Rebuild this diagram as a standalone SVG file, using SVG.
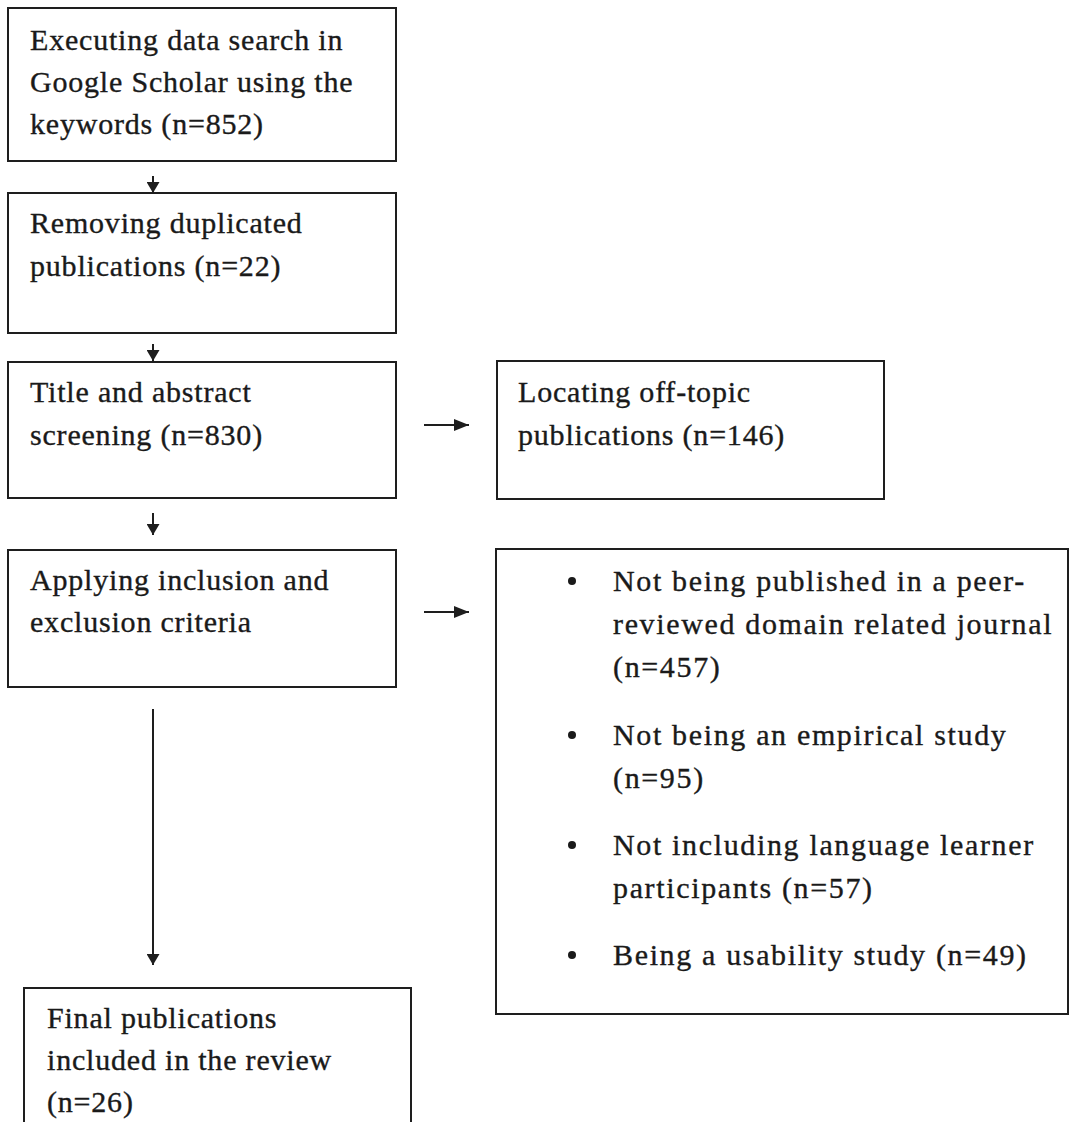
<svg xmlns="http://www.w3.org/2000/svg" width="1072" height="1122" viewBox="0 0 1072 1122">
  <style>
    .box { fill: #ffffff; stroke: #1e1e1e; stroke-width: 2; }
    .t { font-family: "Liberation Serif", "Times New Roman", serif; font-size: 30px; letter-spacing: 0.8px; fill: #1a1a1a; stroke: #1a1a1a; stroke-width: 0.35px; }
    .tb { letter-spacing: 1.65px; }
    .conn { stroke: #1e1e1e; stroke-width: 2; fill: none; }
    .bullet { fill: #1a1a1a; }
  </style>
  <defs>
    <marker id="ahv" viewBox="0 0 11 13" markerWidth="11" markerHeight="13" refX="11" refY="6.5" orient="auto" markerUnits="userSpaceOnUse">
      <path d="M0,0 L11,6.5 L0,13 z" fill="#1e1e1e"/>
    </marker>
    <marker id="ahh" viewBox="0 0 15 12" markerWidth="15" markerHeight="12" refX="15" refY="6" orient="auto" markerUnits="userSpaceOnUse">
      <path d="M0,0 L15,6 L0,12 z" fill="#1e1e1e"/>
    </marker>
  </defs>
  <rect width="1072" height="1122" fill="#ffffff"/>

  <g id="n1">
    <rect class="box" x="8" y="8" width="388" height="153"/>
    <text class="t" x="30" y="50">Executing data search in</text>
    <text class="t" x="30" y="92">Google Scholar using the</text>
    <text class="t" x="30" y="134">keywords (n=852)</text>
  </g>

  <g id="n2">
    <rect class="box" x="8" y="193" width="388" height="140"/>
    <text class="t" x="30" y="233">Removing duplicated</text>
    <text class="t" x="30" y="276">publications (n=22)</text>
  </g>

  <g id="n3">
    <rect class="box" x="8" y="362" width="388" height="136"/>
    <text class="t" x="30" y="402">Title and abstract</text>
    <text class="t" x="30" y="445">screening (n=830)</text>
  </g>

  <g id="n4">
    <rect class="box" x="8" y="550" width="388" height="137"/>
    <text class="t" x="30" y="590">Applying inclusion and</text>
    <text class="t" x="30" y="632">exclusion criteria</text>
  </g>

  <g id="r1">
    <rect class="box" x="497" y="361" width="387" height="138"/>
    <text class="t" x="518" y="402">Locating off-topic</text>
    <text class="t" x="518" y="445">publications (n=146)</text>
  </g>

  <g id="r2">
    <rect class="box" x="496" y="549" width="572" height="465"/>
    <circle class="bullet" cx="572" cy="581" r="4"/>
    <text class="t tb" x="613" y="591">Not being published in a peer-</text>
    <text class="t tb" x="613" y="634">reviewed domain related journal</text>
    <text class="t tb" x="613" y="677">(n=457)</text>
    <circle class="bullet" cx="572" cy="735" r="4"/>
    <text class="t tb" x="613" y="745">Not being an empirical study</text>
    <text class="t tb" x="613" y="788">(n=95)</text>
    <circle class="bullet" cx="572" cy="845" r="4"/>
    <text class="t tb" x="613" y="855">Not including language learner</text>
    <text class="t tb" x="613" y="898">participants (n=57)</text>
    <circle class="bullet" cx="572" cy="955" r="4"/>
    <text class="t tb" x="613" y="965">Being a usability study (n=49)</text>
  </g>

  <g id="n5">
    <rect class="box" x="24" y="988" width="387" height="200"/>
    <text class="t" x="47" y="1028">Final publications</text>
    <text class="t" x="47" y="1070">included in the review</text>
    <text class="t" x="47" y="1112">(n=26)</text>
  </g>

  <g id="connectors">
    <line class="conn" x1="153" y1="176" x2="153" y2="193" marker-end="url(#ahv)"/>
    <line class="conn" x1="153" y1="344" x2="153" y2="361" marker-end="url(#ahv)"/>
    <line class="conn" x1="153" y1="513" x2="153" y2="535" marker-end="url(#ahv)"/>
    <line class="conn" x1="153" y1="709" x2="153" y2="965" marker-end="url(#ahv)"/>
    <line class="conn" x1="424" y1="425" x2="469" y2="425" marker-end="url(#ahh)"/>
    <line class="conn" x1="424" y1="612" x2="469" y2="612" marker-end="url(#ahh)"/>
  </g>
</svg>
